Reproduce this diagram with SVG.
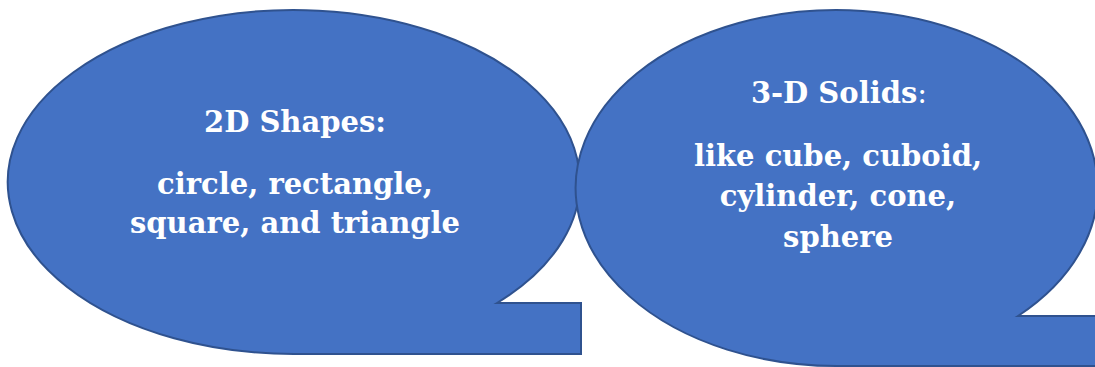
<svg xmlns="http://www.w3.org/2000/svg" width="1095" height="367" viewBox="0 0 1095 367">
<style>
.bubble{fill:#4472C4;stroke:#2F528F;stroke-width:2}
.t{font-family:"DejaVu Serif","Liberation Serif",serif;font-weight:bold;fill:#FFFFFF;text-anchor:middle;font-size:29px}
</style>
<rect width="1095" height="367" fill="#FFFFFF"/>
<g id="node-2d">
<path class="bubble" d="M497,303 H581 V354 H294 A286,172 0 1 1 497,303 Z"/>
<text class="t" x="295" y="132">2D Shapes:</text>
<text class="t" x="295" y="194">circle, rectangle,</text>
<text class="t" x="295" y="233">square, and triangle</text>
</g>
<g id="node-3d">
<path class="bubble" d="M1018,316 H1100 V366 H837 A261,178 0 1 1 1018,316 Z"/>
<text class="t" x="839" y="103">3-D Solids<tspan font-weight="normal">:</tspan></text>
<text class="t" x="838" y="166">like cube, cuboid,</text>
<text class="t" x="838" y="206">cylinder, cone,</text>
<text class="t" x="838" y="247">sphere</text>
</g>
<g id="connectors"/>
</svg>
